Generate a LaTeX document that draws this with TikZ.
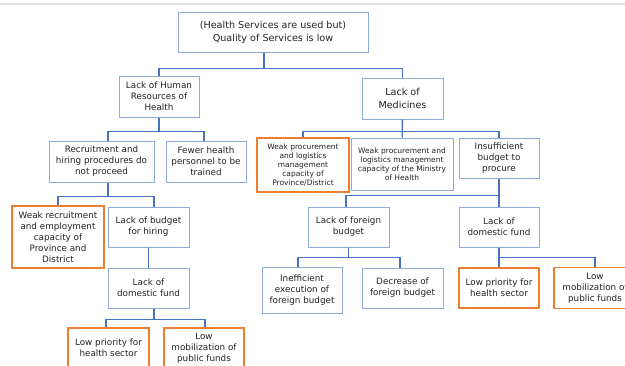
\documentclass[tikz,border=0pt]{standalone}
\usepackage{fontspec}
\setmainfont{DejaVu Sans}
\usepackage{tikz}
\usetikzlibrary{calc}
\definecolor{cBox}{HTML}{8FAADC}
\definecolor{cLink}{HTML}{4472C4}
\definecolor{cHot}{HTML}{ED7D31}
\definecolor{cText}{HTML}{222222}
\tikzset{
  blk/.style  ={draw=cBox,fill=white,line width=1pt,align=center,inner sep=2pt,
                text=cText,font=\fontsize{8.8}{11}\selectfont},
  hot/.style  ={blk,draw=cHot,line width=1.7pt},
  big/.style  ={font=\fontsize{9.6}{13}\selectfont},
  small/.style={font=\fontsize{7.5}{9}\selectfont},
  link/.style ={draw=cLink,line width=1.4pt},
}
\begin{document}
\begin{tikzpicture}[x=1pt, y=-1pt]
\useasboundingbox (0,0) rectangle (625,365);
\clip (0,0) rectangle (625,365);
\fill[white] (0,0) rectangle (625,365);
\draw[black!10,line width=1.6pt] (0,4) -- (625,4);

% problem at the top
\node[blk,big,minimum width=190,minimum height=40] (top) at (273,32)
  {(Health Services are used but)\\Quality of Services is low};

% human resources branch
\node[blk,minimum width=80,minimum height=41] (hrh) at (159,96.5)
  {Lack of Human\\Resources of\\Health};
\node[blk,minimum width=105,minimum height=41] (recruit) at (101.5,161.5)
  {Recruitment and\\hiring procedures do\\not proceed};
\node[blk,minimum width=80,minimum height=41] (fewer) at (206,161.5)
  {Fewer health\\personnel to be\\trained};
\node[hot,minimum width=92,minimum height=62] (weakrec) at (58,237)
  {Weak recruitment\\and employment\\capacity of\\Province and\\District};
\node[blk,minimum width=81,minimum height=40] (hire) at (148.5,227)
  {Lack of budget\\for hiring};
\node[blk,minimum width=81,minimum height=40] (domL) at (148.5,288)
  {Lack of\\domestic fund};
\node[hot,minimum width=81,minimum height=40] (prioL) at (108.5,348)
  {Low priority for\\health sector};
\node[hot,minimum width=80,minimum height=40] (mobL) at (204,348)
  {Low\\mobilization of\\public funds};

% medicines branch
\node[blk,big,minimum width=81,minimum height=41] (med) at (402.5,98.5)
  {Lack of\\Medicines};
\node[hot,small,minimum width=92,minimum height=54] (prov) at (303,165)
  {Weak procurement\\and logistics\\management\\capacity of\\Province/District};
\node[blk,small,minimum width=102,minimum height=52] (moh) at (402,164)
  {Weak procurement and\\logistics management\\capacity of the Ministry\\of Health};
\node[blk,minimum width=80,minimum height=40] (insuf) at (499,158)
  {Insufficient\\budget to\\procure};
\node[blk,minimum width=81,minimum height=40] (forgn) at (348.5,227)
  {Lack of foreign\\budget};
\node[blk,minimum width=80,minimum height=40] (domR) at (499,227)
  {Lack of\\domestic fund};
\node[blk,minimum width=80,minimum height=46] (ineff) at (302,290)
  {Inefficient\\execution of\\foreign budget};
\node[blk,minimum width=81,minimum height=40] (decr) at (402.5,288)
  {Decrease of\\foreign budget};
\node[hot,minimum width=80,minimum height=40] (prioR) at (499,288)
  {Low priority for\\health sector};
\node[hot,minimum width=82,minimum height=41] (mobR) at (595,288)
  {Low\\mobilization of\\public funds};

% connectors
\draw[link] ([xshift=-9pt]top.south) -- ++(0,16) -| (hrh.north);
\draw[link] ([xshift=-9pt]top.south) -- ++(0,16) -| (med.north);
\draw[link] (hrh.south) -- ++(0,14) -| ([xshift=6.5pt]recruit.north);
\draw[link] (hrh.south) -- ++(0,14) -| ([xshift=-2pt]fewer.north);
\draw[link] ([xshift=6.5pt]recruit.south) -- ++(0,14) -| (weakrec.north);
\draw[link] ([xshift=6.5pt]recruit.south) -- ++(0,14) -| ([xshift=5.5pt]hire.north);
\draw[link] (hire) -- (domL);
\draw[link] ([xshift=5.5pt]domL.south) -- ++(0,11) -| ([xshift=-2.5pt]prioL.north);
\draw[link] ([xshift=5.5pt]domL.south) -- ++(0,11) -| ([xshift=1pt]mobL.north);
\draw[link] (med.south) -- ++(0,12) -| (prov.north);
\draw[link] (med.south) -- ++(0,12) -| (insuf.north);
\draw[link] (med) -- (moh);
\draw[link] (insuf.south) -- ++(0,17) -| ([xshift=-2.5pt]forgn.north);
\draw[link] (insuf) -- (domR);
\draw[link] (forgn.south) -- ++(0,10) -| ([xshift=-4pt]ineff.north);
\draw[link] (forgn.south) -- ++(0,10) -| ([xshift=-2.5pt]decr.north);
\draw[link] (domR.south) -- ++(0,10) -| (mobR.north);
\draw[link] (domR) -- (prioR);
\end{tikzpicture}
\end{document}
